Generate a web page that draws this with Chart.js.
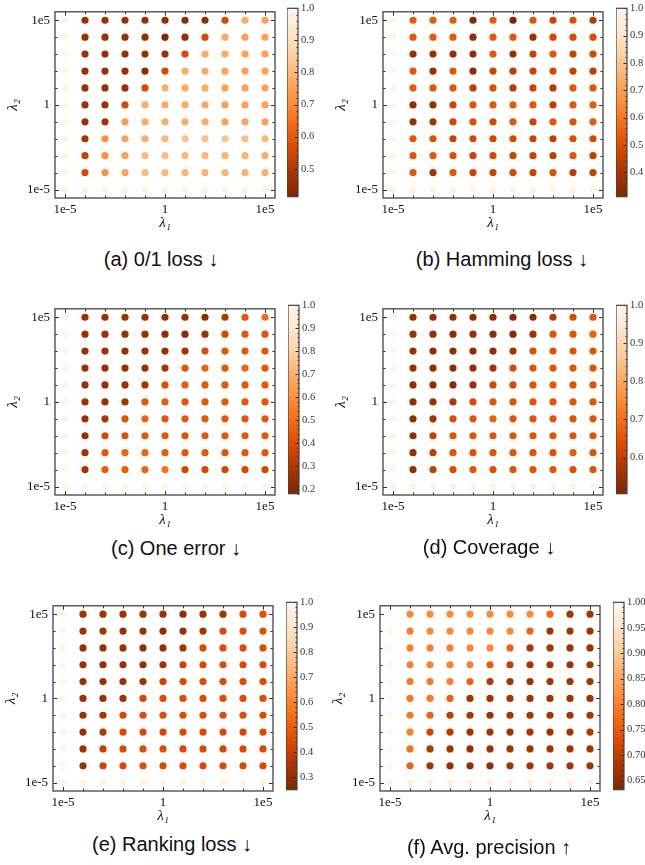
<!DOCTYPE html>
<html>
<head>
<meta charset="utf-8">
<script src="https://cdn.jsdelivr.net/npm/chart.js@4.4.1/dist/chart.umd.min.js"></script>
<style>
  html, body { margin: 0; padding: 0; background: #fff; }
  body { width: 645px; height: 865px; position: relative; overflow: hidden; }
  canvas { position: absolute; }
  .cap {
    position: absolute; transform: translate(-50%, -50%);
    font-family: "Liberation Sans", Arial, sans-serif; font-size: 20px;
    line-height: 1; color: #111; white-space: nowrap;
  }
</style>
</head>
<body>
<script>
// grid of regularisation weights (columns = lambda1, rows = lambda2 from top to bottom)
const LAMBDA1 = [1e-5, 1e-4, 1e-3, 1e-2, 1e-1, 1, 1e1, 1e2, 1e3, 1e4, 1e5];
const LAMBDA2_ROWS = [1e5, 1e4, 1e3, 1e2, 1e1, 1, 1e-1, 1e-2, 1e-3, 1e-4, 1e-5];
const AXIS_TICKS = [1e-5, 1, 1e5];
const AXIS_TICK_LABELS = ["1e-5", "1", "1e5"];

// (a) 0/1 loss
const LOSS_01 = [
  [1.00, 0.46, 0.46, 0.46, 0.45, 0.45, 0.44, 0.45, 0.56, 0.77, 0.75],
  [1.00, 0.46, 0.46, 0.46, 0.45, 0.42, 0.45, 0.56, 0.77, 0.75, 0.75],
  [1.00, 0.46, 0.46, 0.46, 0.45, 0.46, 0.56, 0.77, 0.77, 0.75, 0.75],
  [1.00, 0.46, 0.46, 0.46, 0.44, 0.56, 0.77, 0.77, 0.75, 0.75, 0.75],
  [1.00, 0.46, 0.46, 0.46, 0.56, 0.78, 0.77, 0.77, 0.75, 0.75, 0.75],
  [1.00, 0.46, 0.47, 0.56, 0.78, 0.77, 0.77, 0.77, 0.75, 0.75, 0.75],
  [1.00, 0.46, 0.48, 0.74, 0.77, 0.77, 0.77, 0.77, 0.75, 0.75, 0.75],
  [1.00, 0.48, 0.71, 0.75, 0.78, 0.80, 0.82, 0.82, 0.82, 0.81, 0.80],
  [1.00, 0.54, 0.71, 0.75, 0.80, 0.81, 0.80, 0.80, 0.79, 0.79, 0.78],
  [1.00, 0.56, 0.72, 0.75, 0.80, 0.80, 0.79, 0.79, 0.79, 0.78, 0.78],
  [0.99, 0.99, 0.99, 0.99, 0.99, 0.99, 0.99, 0.99, 0.99, 0.99, 0.99]
];
// (b) Hamming loss
const HAMMING = [
  [1.00, 0.53, 0.53, 0.53, 0.33, 0.53, 0.31, 0.52, 0.46, 0.50, 0.43],
  [1.00, 0.52, 0.53, 0.53, 0.35, 0.53, 0.52, 0.37, 0.47, 0.49, 0.49],
  [1.00, 0.36, 0.37, 0.36, 0.35, 0.52, 0.37, 0.45, 0.52, 0.45, 0.48],
  [1.00, 0.52, 0.36, 0.52, 0.34, 0.46, 0.43, 0.46, 0.48, 0.45, 0.43],
  [1.00, 0.53, 0.52, 0.52, 0.44, 0.50, 0.43, 0.46, 0.43, 0.52, 0.52],
  [1.00, 0.35, 0.36, 0.46, 0.52, 0.52, 0.53, 0.52, 0.44, 0.52, 0.53],
  [1.00, 0.36, 0.39, 0.48, 0.50, 0.48, 0.52, 0.46, 0.52, 0.50, 0.53],
  [1.00, 0.52, 0.50, 0.45, 0.48, 0.48, 0.48, 0.46, 0.44, 0.50, 0.48],
  [1.00, 0.52, 0.52, 0.50, 0.46, 0.48, 0.46, 0.46, 0.43, 0.52, 0.45],
  [1.00, 0.52, 0.39, 0.52, 0.46, 0.45, 0.48, 0.46, 0.50, 0.43, 0.45],
  [0.99, 0.99, 0.99, 0.99, 0.99, 0.99, 0.99, 0.99, 0.99, 0.99, 0.99]
];
// (c) One error
const ONE_ERROR = [
  [1.00, 0.25, 0.25, 0.25, 0.24, 0.24, 0.24, 0.22, 0.30, 0.43, 0.49],
  [1.00, 0.25, 0.25, 0.25, 0.25, 0.23, 0.22, 0.26, 0.39, 0.43, 0.43],
  [1.00, 0.25, 0.25, 0.25, 0.25, 0.25, 0.28, 0.40, 0.43, 0.43, 0.43],
  [1.00, 0.25, 0.25, 0.24, 0.25, 0.28, 0.43, 0.47, 0.43, 0.47, 0.43],
  [1.00, 0.24, 0.24, 0.25, 0.28, 0.40, 0.45, 0.43, 0.43, 0.43, 0.43],
  [1.00, 0.25, 0.24, 0.28, 0.43, 0.45, 0.43, 0.43, 0.43, 0.43, 0.43],
  [1.00, 0.25, 0.28, 0.41, 0.47, 0.43, 0.43, 0.43, 0.43, 0.43, 0.43],
  [1.00, 0.24, 0.39, 0.41, 0.43, 0.43, 0.41, 0.43, 0.43, 0.43, 0.43],
  [1.00, 0.26, 0.43, 0.47, 0.47, 0.45, 0.43, 0.43, 0.43, 0.43, 0.43],
  [1.00, 0.28, 0.45, 0.45, 0.47, 0.52, 0.38, 0.38, 0.38, 0.38, 0.38],
  [0.99, 0.99, 0.99, 0.99, 0.99, 0.99, 0.99, 0.99, 0.99, 0.99, 0.99]
];
// (d) Coverage
const COVERAGE = [
  [1.00, 0.540, 0.540, 0.535, 0.535, 0.530, 0.525, 0.525, 0.575, 0.635, 0.650],
  [1.00, 0.550, 0.540, 0.530, 0.540, 0.530, 0.525, 0.560, 0.650, 0.650, 0.675],
  [1.00, 0.550, 0.540, 0.540, 0.530, 0.530, 0.560, 0.640, 0.650, 0.650, 0.650],
  [1.00, 0.540, 0.540, 0.530, 0.535, 0.560, 0.635, 0.650, 0.650, 0.650, 0.650],
  [1.00, 0.540, 0.535, 0.525, 0.550, 0.625, 0.635, 0.650, 0.660, 0.650, 0.650],
  [1.00, 0.540, 0.550, 0.575, 0.635, 0.650, 0.650, 0.650, 0.650, 0.650, 0.650],
  [1.00, 0.535, 0.560, 0.635, 0.650, 0.675, 0.650, 0.650, 0.650, 0.650, 0.650],
  [1.00, 0.535, 0.600, 0.650, 0.650, 0.650, 0.650, 0.650, 0.650, 0.650, 0.650],
  [1.00, 0.535, 0.600, 0.650, 0.650, 0.650, 0.650, 0.650, 0.650, 0.660, 0.650],
  [1.00, 0.535, 0.600, 0.635, 0.650, 0.650, 0.650, 0.650, 0.650, 0.650, 0.650],
  [0.99, 0.99, 0.99, 0.99, 0.99, 0.99, 0.99, 0.99, 0.99, 0.99, 0.99]
];
// (e) Ranking loss
const RANKING = [
  [1.00, 0.325, 0.325, 0.325, 0.325, 0.310, 0.295, 0.325, 0.340, 0.440, 0.460],
  [1.00, 0.325, 0.325, 0.310, 0.310, 0.300, 0.310, 0.340, 0.440, 0.450, 0.460],
  [1.00, 0.310, 0.310, 0.310, 0.300, 0.300, 0.340, 0.440, 0.450, 0.450, 0.450],
  [1.00, 0.310, 0.300, 0.310, 0.310, 0.340, 0.415, 0.440, 0.450, 0.440, 0.440],
  [1.00, 0.310, 0.310, 0.310, 0.325, 0.415, 0.440, 0.450, 0.450, 0.450, 0.450],
  [1.00, 0.310, 0.310, 0.325, 0.440, 0.450, 0.450, 0.450, 0.450, 0.450, 0.450],
  [1.00, 0.310, 0.340, 0.440, 0.450, 0.450, 0.450, 0.450, 0.450, 0.450, 0.450],
  [1.00, 0.310, 0.360, 0.440, 0.440, 0.440, 0.440, 0.440, 0.440, 0.440, 0.440],
  [1.00, 0.325, 0.400, 0.440, 0.450, 0.450, 0.440, 0.440, 0.440, 0.440, 0.440],
  [1.00, 0.310, 0.415, 0.440, 0.450, 0.440, 0.440, 0.440, 0.440, 0.440, 0.440],
  [0.99, 0.99, 0.99, 0.99, 0.99, 0.99, 0.99, 0.99, 0.99, 0.99, 0.99]
];
// (f) Avg. precision
const AVG_PREC = [
  [1.00, 0.812, 0.812, 0.812, 0.812, 0.812, 0.812, 0.812, 0.770, 0.680, 0.675],
  [1.00, 0.800, 0.810, 0.810, 0.810, 0.810, 0.810, 0.765, 0.675, 0.675, 0.669],
  [1.00, 0.800, 0.800, 0.800, 0.810, 0.810, 0.761, 0.676, 0.676, 0.669, 0.669],
  [1.00, 0.800, 0.800, 0.800, 0.800, 0.755, 0.706, 0.676, 0.676, 0.669, 0.676],
  [1.00, 0.790, 0.790, 0.800, 0.760, 0.690, 0.676, 0.669, 0.676, 0.676, 0.676],
  [1.00, 0.790, 0.790, 0.761, 0.676, 0.676, 0.676, 0.669, 0.669, 0.669, 0.669],
  [1.00, 0.790, 0.760, 0.700, 0.676, 0.669, 0.676, 0.676, 0.676, 0.676, 0.676],
  [1.00, 0.798, 0.720, 0.695, 0.676, 0.676, 0.676, 0.676, 0.676, 0.676, 0.687],
  [1.00, 0.780, 0.687, 0.669, 0.661, 0.669, 0.676, 0.676, 0.676, 0.676, 0.676],
  [1.00, 0.765, 0.676, 0.661, 0.654, 0.647, 0.676, 0.676, 0.676, 0.676, 0.676],
  [0.99, 0.99, 0.99, 0.99, 0.99, 0.99, 0.99, 0.99, 0.99, 0.99, 0.99]
];

// colour bar ranges and ticks
const CBAR_RANGE_A = [0.413, 1.0], CBAR_TICKS_A = [0.5, 0.6, 0.7, 0.8, 0.9, 1.0];
const CBAR_RANGE_B = [0.31, 1.0],  CBAR_TICKS_B = [0.4, 0.5, 0.6, 0.7, 0.8, 0.9, 1.0];
const CBAR_RANGE_C = [0.18, 1.0],  CBAR_TICKS_C = [0.2, 0.3, 0.4, 0.5, 0.6, 0.7, 0.8, 0.9, 1.0];
const CBAR_RANGE_D = [0.505, 1.0], CBAR_TICKS_D = [0.6, 0.7, 0.8, 0.9, 1.0];
const CBAR_RANGE_E = [0.25, 1.0],  CBAR_TICKS_E = [0.3, 0.4, 0.5, 0.6, 0.7, 0.8, 0.9, 1.0];
const CBAR_RANGE_F = [0.632, 1.0], CBAR_TICKS_F = [0.65, 0.70, 0.75, 0.80, 0.85, 0.90, 0.95, 1.00];

// matplotlib "Oranges", reversed (low value = dark)
const ORANGES_R = ["#7f2704", "#a63603", "#d94801", "#f16913", "#fd8d3c",
                   "#fdae6b", "#fdd0a2", "#fee6ce", "#fff5eb"];

const SERIF = '"Liberation Serif", "DejaVu Serif", serif';
const AXIS_MIN = 3.162e-6, AXIS_MAX = 3.162e5;   // half a decade of margin
const Y_AXIS_W = 55, X_AXIS_H = 42, PAD_T = 8, PAD_R = 6;
const CB_AXIS_W = 30, CB_PAD = 8;

const panels = [
  { caption: "(a) 0/1 loss \u2193", values: LOSS_01, range: CBAR_RANGE_A, cticks: CBAR_TICKS_A, digits: 1, minor: 0.02,
    frame: { l: 55, t: 7, r: 275, b: 198 }, cbx: 287, cap: [161, 259] },
  { caption: "(b) Hamming loss \u2193", values: HAMMING, range: CBAR_RANGE_B, cticks: CBAR_TICKS_B, digits: 1, minor: 0.02,
    frame: { l: 383, t: 7, r: 603, b: 198 }, cbx: 616, cap: [502, 259] },
  { caption: "(c) One error \u2193", values: ONE_ERROR, range: CBAR_RANGE_C, cticks: CBAR_TICKS_C, digits: 1, minor: 0.02,
    frame: { l: 55, t: 304, r: 275, b: 495 }, cbx: 288, cap: [176, 548] },
  { caption: "(d) Coverage \u2193", values: COVERAGE, range: CBAR_RANGE_D, cticks: CBAR_TICKS_D, digits: 1, minor: 0.02,
    frame: { l: 383, t: 304, r: 603, b: 495 }, cbx: 616, cap: [489, 547] },
  { caption: "(e) Ranking loss \u2193", values: RANKING, range: CBAR_RANGE_E, cticks: CBAR_TICKS_E, digits: 1, minor: 0.02,
    frame: { l: 53, t: 601, r: 273, b: 791 }, cbx: 286, cap: [172, 844] },
  { caption: "(f) Avg. precision \u2191", values: AVG_PREC, range: CBAR_RANGE_F, cticks: CBAR_TICKS_F, digits: 2, minor: 0.01,
    frame: { l: 380, t: 601, r: 600, b: 791 }, cbx: 613, cap: [489, 847] }
];

function hexToRgb(h) {
  return [parseInt(h.slice(1, 3), 16), parseInt(h.slice(3, 5), 16), parseInt(h.slice(5, 7), 16)];
}
const CMAP_RGB = ORANGES_R.map(hexToRgb);
function cmap(t) {
  t = Math.min(1, Math.max(0, t));
  const f = t * (CMAP_RGB.length - 1);
  const i = Math.min(CMAP_RGB.length - 2, Math.floor(f));
  const u = f - i;
  const c = CMAP_RGB[i].map((a, k) => Math.round(a + (CMAP_RGB[i + 1][k] - a) * u));
  return `rgb(${c[0]},${c[1]},${c[2]})`;
}

// frame on all four sides with inward ticks (matplotlib style)
const frameTicks = {
  id: "frameTicks",
  afterDatasetsDraw(chart) {
    const { ctx, chartArea: a } = chart;
    const xs = chart.scales.x, ys = chart.scales.y;
    ctx.save();
    ctx.strokeStyle = "#333";
    ctx.lineWidth = 1;
    ctx.beginPath();
    LAMBDA1.forEach(v => {
      const len = AXIS_TICKS.includes(v) ? 4 : 2.5;
      const px = Math.round(xs.getPixelForValue(v)) + 0.5;
      ctx.moveTo(px, a.bottom); ctx.lineTo(px, a.bottom - len);
      ctx.moveTo(px, a.top); ctx.lineTo(px, a.top + len);
      const py = Math.round(ys.getPixelForValue(v)) + 0.5;
      ctx.moveTo(a.left, py); ctx.lineTo(a.left + len, py);
      ctx.moveTo(a.right, py); ctx.lineTo(a.right - len, py);
    });
    ctx.stroke();
    ctx.strokeStyle = "#444";
    ctx.lineWidth = 1.3;
    ctx.strokeRect(a.left, a.top, a.right - a.left, a.bottom - a.top);
    ctx.restore();
  }
};

// colour bar outline plus its right-hand ticks
const cbarTicks = {
  id: "cbarTicks",
  afterDatasetsDraw(chart, args, opts) {
    const { ctx, chartArea: a } = chart;
    const ys = chart.scales.y;
    ctx.save();
    ctx.strokeStyle = "#333";
    ctx.lineWidth = 1;
    ctx.beginPath();
    for (let v = Math.ceil(ys.min / opts.minor) * opts.minor; v <= ys.max + 1e-9; v += opts.minor) {
      const py = Math.round(ys.getPixelForValue(v)) + 0.5;
      ctx.moveTo(a.right, py); ctx.lineTo(a.right - 1.5, py);
    }
    opts.major.forEach(v => {
      const py = Math.round(ys.getPixelForValue(v)) + 0.5;
      ctx.moveTo(a.right, py); ctx.lineTo(a.right - 3.5, py);
    });
    ctx.stroke();
    ctx.strokeStyle = "#444";
    ctx.lineWidth = 1.2;
    ctx.strokeRect(a.left, a.top, a.right - a.left, a.bottom - a.top);
    ctx.restore();
  }
};

function addCanvas(left, top, w, h) {
  const c = document.createElement("canvas");
  c.width = w; c.height = h;
  c.style.left = left + "px"; c.style.top = top + "px";
  c.style.width = w + "px"; c.style.height = h + "px";
  document.body.appendChild(c);
  return c;
}

function makeScatter(p) {
  const f = p.frame;
  const W = f.r - f.l + Y_AXIS_W + PAD_R;
  const H = f.b - f.t + PAD_T + X_AXIS_H;
  const canvas = addCanvas(f.l - Y_AXIS_W, f.t - PAD_T, W, H);
  const points = [];
  p.values.forEach((row, i) => row.forEach((v, j) => {
    points.push({ x: LAMBDA1[j], y: LAMBDA2_ROWS[i], v: v });
  }));
  const span = p.range[1] - p.range[0];
  const axisCommon = {
    type: "logarithmic", min: AXIS_MIN, max: AXIS_MAX,
    grid: { display: false, drawTicks: false }, border: { display: false },
    afterBuildTicks: s => { s.ticks = AXIS_TICKS.map(v => ({ value: v })); },
    ticks: {
      callback: (v, i) => AXIS_TICK_LABELS[i],
      font: { family: SERIF, size: 13 }, color: "#111",
      maxRotation: 0, autoSkip: false
    }
  };
  new Chart(canvas, {
    type: "scatter",
    data: {
      datasets: [{
        data: points,
        pointRadius: 3.6, pointHoverRadius: 3.6, borderWidth: 0,
        backgroundColor: c => cmap((c.raw.v - p.range[0]) / span)
      }]
    },
    options: {
      responsive: false, animation: false, events: [],
      layout: { padding: { left: 0, top: PAD_T, right: PAD_R, bottom: 0 }, autoPadding: false },
      plugins: { legend: { display: false }, tooltip: { enabled: false } },
      scales: {
        x: Object.assign({}, axisCommon, {
          afterFit: s => { s.height = X_AXIS_H; },
          ticks: Object.assign({}, axisCommon.ticks, { padding: 4 }),
          title: { display: true, text: "\u03bb\u2081", color: "#111",
                   font: { family: SERIF, size: 15, style: "italic" }, padding: { top: 0, bottom: 8 } }
        }),
        y: Object.assign({}, axisCommon, {
          afterFit: s => { s.width = Y_AXIS_W; },
          ticks: Object.assign({}, axisCommon.ticks, { padding: 5 }),
          title: { display: true, text: "\u03bb\u2082", color: "#111",
                   font: { family: SERIF, size: 15, style: "italic" }, padding: { top: 4, bottom: 0 } }
        })
      }
    },
    plugins: [frameTicks]
  });
}

function makeColorbar(p) {
  const f = p.frame;
  const cbw = 11;
  const canvas = addCanvas(p.cbx, f.t - CB_PAD, cbw + CB_AXIS_W, f.b - f.t + 2 * CB_PAD);
  new Chart(canvas, {
    type: "bar",
    data: {
      labels: [""],
      datasets: [{
        data: [p.range],
        barPercentage: 1, categoryPercentage: 1, borderWidth: 0,
        backgroundColor: c => {
          const a = c.chart.chartArea;
          if (!a) return "#ccc";
          const g = c.chart.ctx.createLinearGradient(0, a.bottom, 0, a.top);
          ORANGES_R.forEach((col, k) => g.addColorStop(k / (ORANGES_R.length - 1), col));
          return g;
        }
      }]
    },
    options: {
      responsive: false, animation: false, events: [],
      layout: { padding: { left: 0, top: CB_PAD, right: 0, bottom: CB_PAD }, autoPadding: false },
      plugins: { legend: { display: false }, tooltip: { enabled: false },
                 cbarTicks: { major: p.cticks, minor: p.minor } },
      scales: {
        x: { display: false },
        y: {
          position: "right", min: p.range[0], max: p.range[1],
          grid: { display: false, drawTicks: false }, border: { display: false },
          afterBuildTicks: s => { s.ticks = p.cticks.map(v => ({ value: v })); },
          afterFit: s => { s.width = CB_AXIS_W; },
          ticks: { callback: v => v.toFixed(p.digits), font: { family: SERIF, size: 10.5 },
                   color: "#333", padding: 3 }
        }
      }
    },
    plugins: [cbarTicks]
  });
}

panels.forEach(p => {
  makeScatter(p);
  makeColorbar(p);
  const cap = document.createElement("div");
  cap.className = "cap";
  cap.textContent = p.caption;
  cap.style.left = p.cap[0] + "px";
  cap.style.top = p.cap[1] + "px";
  document.body.appendChild(cap);
});
</script>
</body>
</html>
